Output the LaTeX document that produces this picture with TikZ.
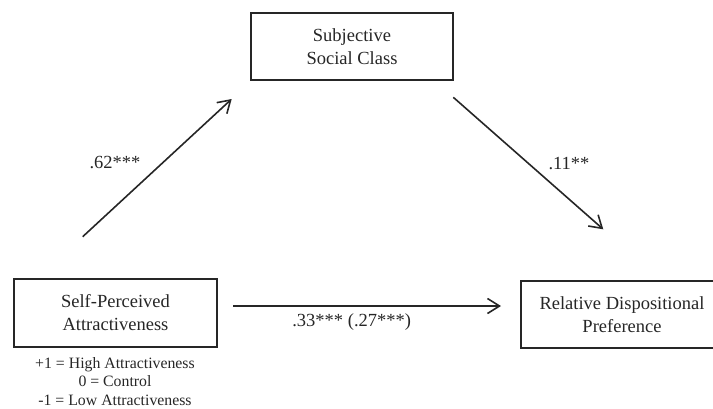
\documentclass[tikz,border=0pt]{standalone}
\usepackage{fontspec}
\setmainfont{Liberation Serif}
\usetikzlibrary{arrows.meta}
\begin{document}
\begin{tikzpicture}[x=1pt,y=-1pt,
  box/.style={draw=black!85, line width=1.3pt, minimum width=202pt, minimum height=67pt,
    align=center, inner sep=0pt, text=black!85, font=\fontsize{18.5}{23}\selectfont},
  lbl/.style={inner sep=0pt, text=black!85, font=\fontsize{18.5}{23}\selectfont},
  note/.style={align=center, inner sep=0pt, text=black!85, font=\fontsize{15.8}{18.3}\selectfont},
  arr/.style={draw=black!85, line width=1.6pt, -{Straight Barb[length=12pt,width=15pt,line width=1.6pt]}}]
\useasboundingbox (0,0) rectangle (713,408);
\clip (0,0) rectangle (713,408);
\node[box] (ssc) at (352,46.5) {Subjective\\Social Class};
\node[box, minimum width=203pt, minimum height=68pt] (spa) at (115.5,313) {Self-Perceived\\Attractiveness};
\node[box] (rdp) at (622,314.5) {Relative Dispositional\\Preference};
\node[note] (codes) at (115,381.5) {+1 = High Attractiveness\\0 = Control\\-1 = Low Attractiveness};
\coordinate (a1s) at (82.7,236.7);
\coordinate (a1e) at (231.7,99);
\coordinate (a2s) at (453.3,97.3);
\coordinate (a2e) at (603.3,229.3);
\coordinate (a3s) at (233.3,306);
\coordinate (a3e) at (501,306);
\draw[arr] (a1s) -- (a1e);
\draw[arr] (a2s) -- (a2e);
\draw[arr] (a3s) -- (a3e);
\node[lbl] (l1) at (115,163) {.62***};
\node[lbl] (l2) at (569,164) {.11**};
\node[lbl] (l3) at (351.7,321.7) {.33*** (.27***)};
\end{tikzpicture}
\end{document}
